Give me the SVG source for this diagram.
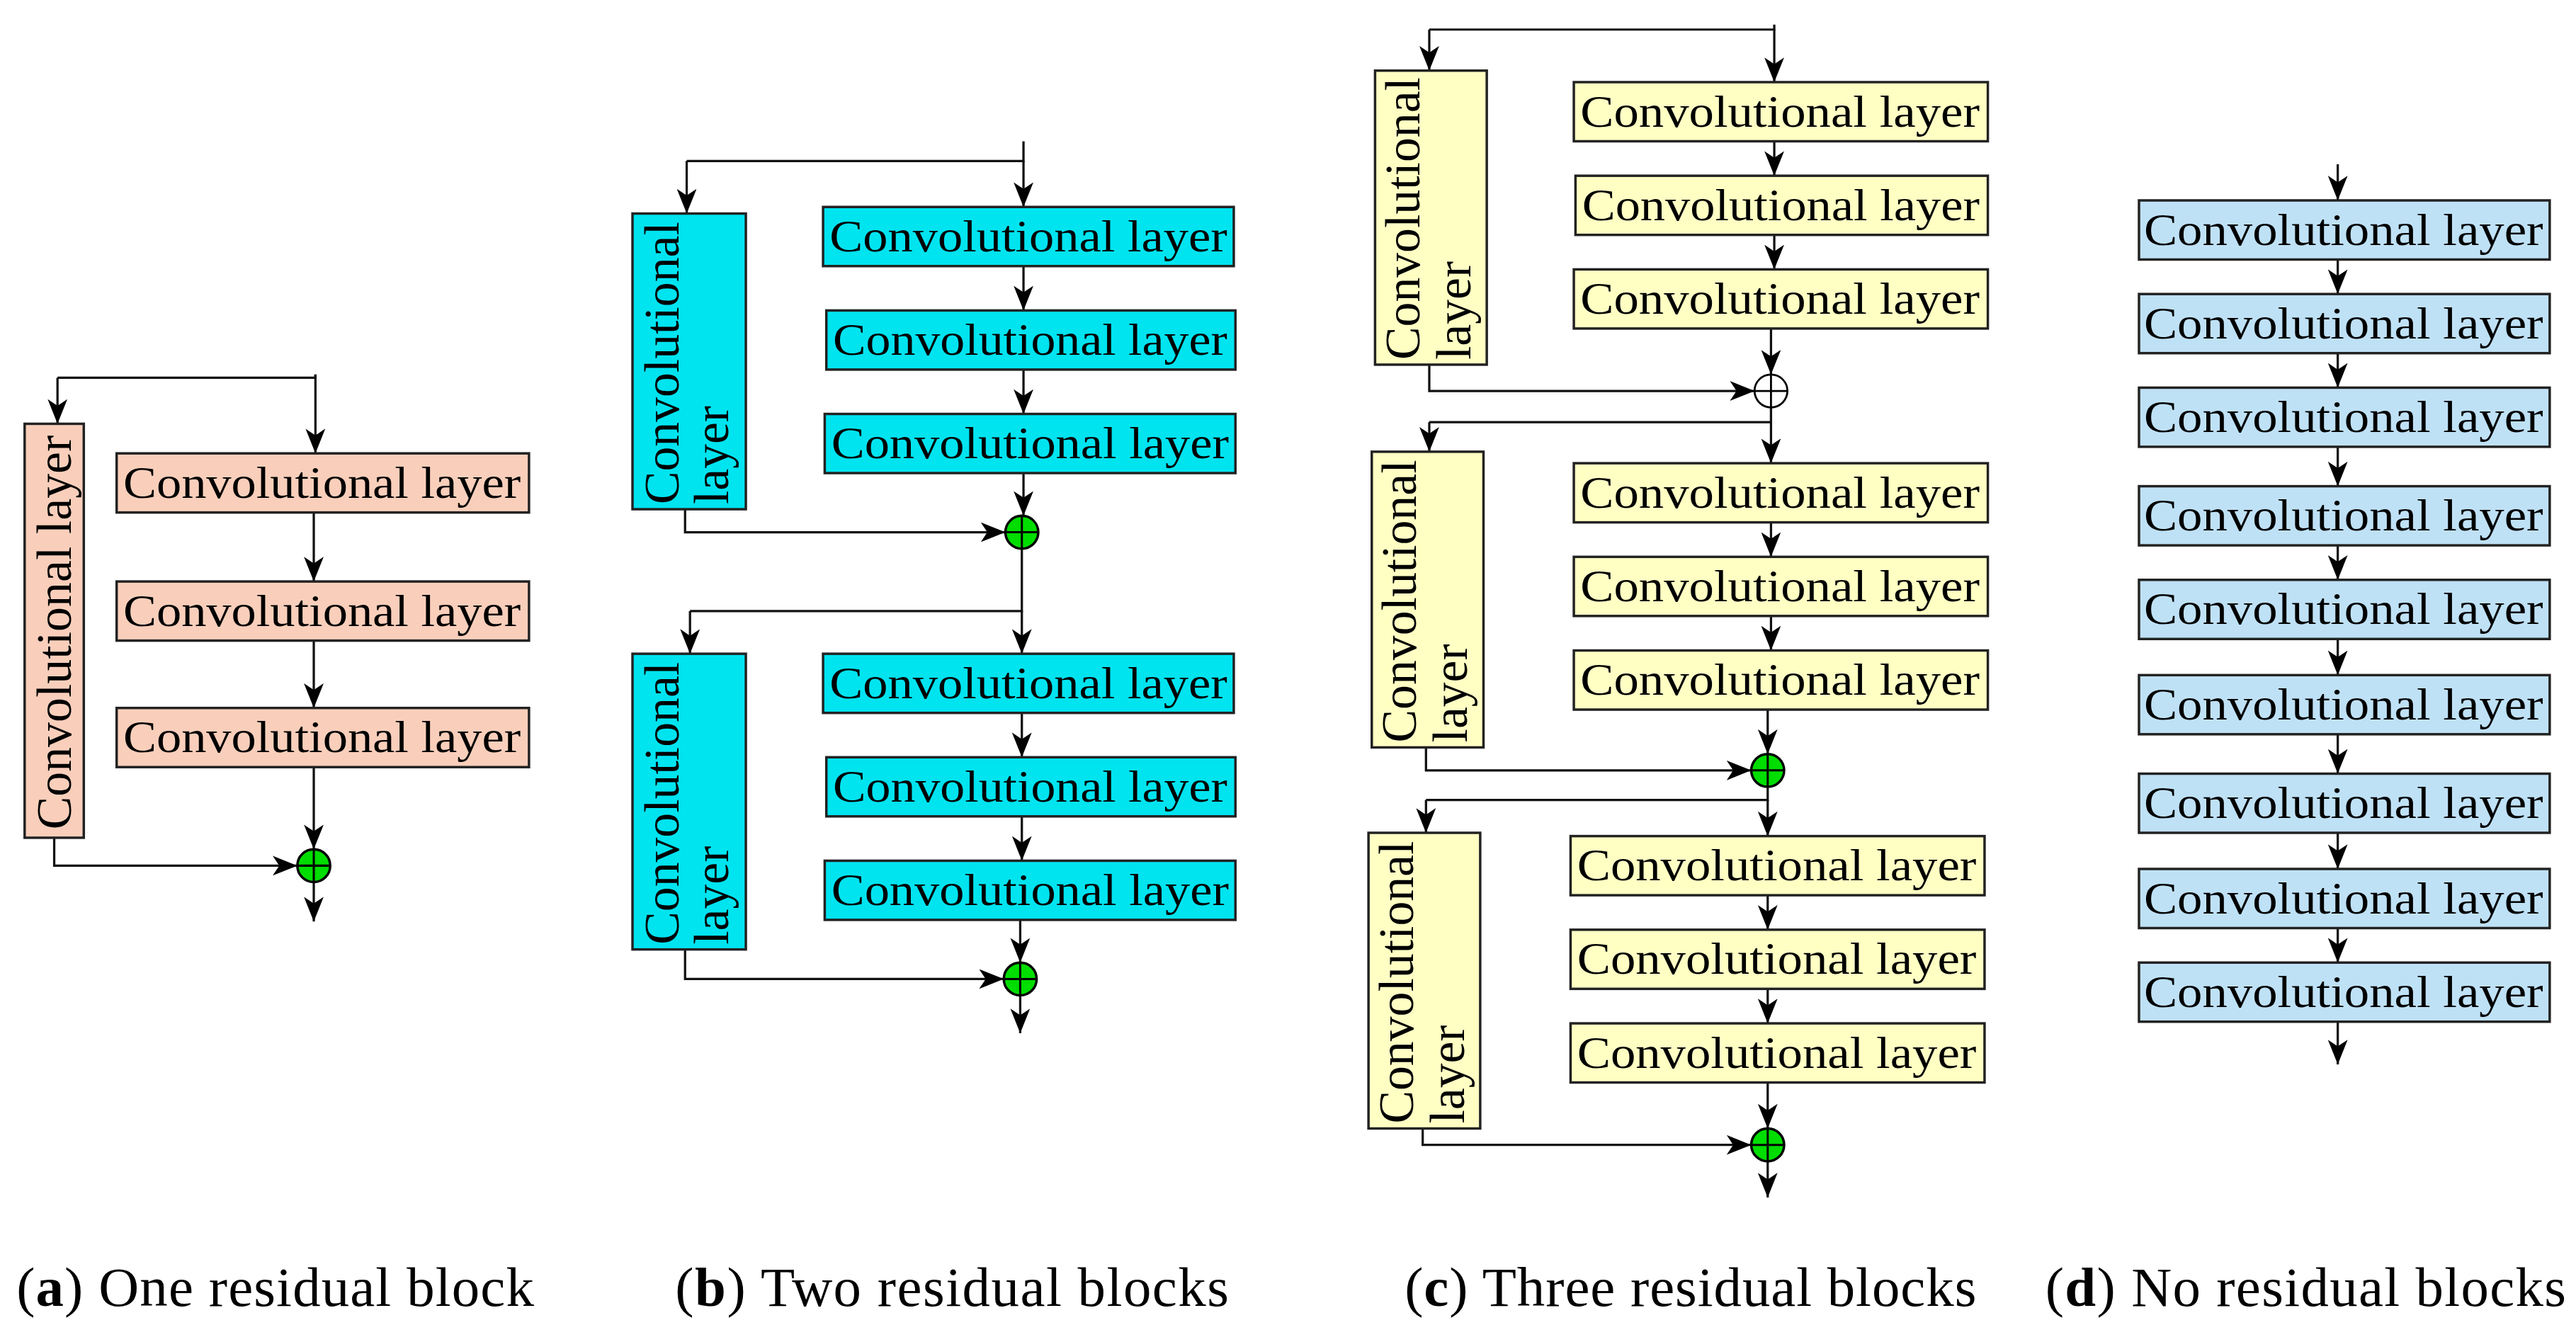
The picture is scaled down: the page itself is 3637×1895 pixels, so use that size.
<svg xmlns="http://www.w3.org/2000/svg" width="3637" height="1895" viewBox="0 0 3637 1895">
<style>
.bx{stroke:#222;stroke-width:1.5}
.a{fill:#f9cfbb}.b{fill:#00e4f0}.c{fill:#ffffc4}.d{fill:#bfe1f6}
.t{font-family:"Liberation Serif",serif;font-size:27px;fill:#000}
.v{font-size:30px}
.ln{fill:none;stroke:#111;stroke-width:1.4}
.ar{marker-end:url(#ah)}
.cap{font-family:"Liberation Serif",serif;font-size:34px;fill:#000}
</style>
<defs>
<marker id="ah" markerUnits="userSpaceOnUse" markerWidth="15" markerHeight="12" viewBox="0 0 15 12" refX="15" refY="6" orient="auto"><path d="M0,0 L15,6 L0,12 L4,6 z" fill="#000"/></marker>
<g id="sum"><circle r="10" fill="#00dd00" stroke="#000" stroke-width="1.5"/><path d="M-10,0H10M0,-10V10" stroke="#000" stroke-width="1.3"/></g>
</defs>
<rect width="3637" height="1895" fill="#fff"/>
<g transform="scale(2.3195)">
<g id="connectors">
<path class="ln" d="M192,228V230H35"/><path class="ln ar" d="M35,230V258"/><path class="ln ar" d="M192,228V276"/>
<path class="ln ar" d="M191,312V354"/><path class="ln ar" d="M191,390V431"/><path class="ln ar" d="M191,467V517"/>
<path class="ln ar" d="M33,510V527H181"/><path class="ln ar" d="M191,537V561"/>
<path class="ln" d="M623,86V98H418"/><path class="ln ar" d="M418,98V130"/><path class="ln ar" d="M623,98V126"/>
<path class="ln ar" d="M623,162V189"/><path class="ln ar" d="M623,225V252"/><path class="ln ar" d="M623,288V314"/>
<path class="ln ar" d="M417,310V324H612"/>
<path class="ln" d="M622,334V372H420"/><path class="ln ar" d="M420,372V398"/><path class="ln ar" d="M622,372V398"/>
<path class="ln ar" d="M622,434V461"/><path class="ln ar" d="M622,497V524"/><path class="ln ar" d="M621,560V586"/>
<path class="ln ar" d="M417,578V596H611"/><path class="ln ar" d="M621,606V629"/>
<path class="ln" d="M1080,15V18H870"/><path class="ln ar" d="M870,18V43"/><path class="ln ar" d="M1080,18V50"/>
<path class="ln ar" d="M1080,86V107"/><path class="ln ar" d="M1080,143V164"/><path class="ln ar" d="M1078,200V228"/>
<path class="ln ar" d="M870,222V238H1068"/>
<path class="ln" d="M1078,248V257H870"/><path class="ln ar" d="M870,257V275"/><path class="ln ar" d="M1078,257V282"/>
<path class="ln ar" d="M1078,318V339"/><path class="ln ar" d="M1078,375V396"/><path class="ln ar" d="M1076,432V459"/>
<path class="ln ar" d="M868,455V469H1066"/>
<path class="ln" d="M1076,479V487H868"/><path class="ln ar" d="M868,487V507"/><path class="ln ar" d="M1076,487V509"/>
<path class="ln ar" d="M1076,545V566"/><path class="ln ar" d="M1076,602V623"/><path class="ln ar" d="M1076,659V687"/>
<path class="ln ar" d="M866,687V697H1066"/><path class="ln ar" d="M1076,707V729"/>
<path class="ln ar" d="M1423,100V122"/>
<path class="ln ar" d="M1423,158V179"/><path class="ln ar" d="M1423,215V236"/><path class="ln ar" d="M1423,272V296"/>
<path class="ln ar" d="M1423,332V353"/><path class="ln ar" d="M1423,389V411"/><path class="ln ar" d="M1423,447V471"/>
<path class="ln ar" d="M1423,507V529"/><path class="ln ar" d="M1423,565V586"/><path class="ln ar" d="M1423,622V648"/>
</g>
<g id="sums">
<use href="#sum" x="191" y="527"/><use href="#sum" x="622" y="324"/><use href="#sum" x="621" y="596"/>
<g transform="translate(1078,238)"><circle r="10" fill="#fff" stroke="#000" stroke-width="1.2"/><path d="M-10,0H10M0,-10V10" stroke="#000" stroke-width="1.2"/></g>
<use href="#sum" x="1076" y="469"/><use href="#sum" x="1076" y="697"/>
</g>
<g id="a-side"><rect class="bx a" x="15" y="258" width="36" height="252"/><text class="t v" transform="translate(43,505) rotate(-90)" textLength="240" lengthAdjust="spacingAndGlyphs">Convolutional layer</text></g>
<g id="a1"><rect class="bx a" x="71" y="276" width="251" height="36"/><text class="t" x="75" y="303" textLength="242" lengthAdjust="spacingAndGlyphs">Convolutional layer</text></g>
<g id="a2"><rect class="bx a" x="71" y="354" width="251" height="36"/><text class="t" x="75" y="381" textLength="242" lengthAdjust="spacingAndGlyphs">Convolutional layer</text></g>
<g id="a3"><rect class="bx a" x="71" y="431" width="251" height="36"/><text class="t" x="75" y="458" textLength="242" lengthAdjust="spacingAndGlyphs">Convolutional layer</text></g>
<g id="b-side1"><rect class="bx b" x="385" y="130" width="69" height="180"/><text class="t v" transform="translate(413,307) rotate(-90)" textLength="172" lengthAdjust="spacingAndGlyphs">Convolutional</text><text class="t v" transform="translate(443,307) rotate(-90)">layer</text></g>
<g id="b1"><rect class="bx b" x="501" y="126" width="250" height="36"/><text class="t" x="505" y="153" textLength="242" lengthAdjust="spacingAndGlyphs">Convolutional layer</text></g>
<g id="b2"><rect class="bx b" x="503" y="189" width="249" height="36"/><text class="t" x="507" y="216" textLength="240" lengthAdjust="spacingAndGlyphs">Convolutional layer</text></g>
<g id="b3"><rect class="bx b" x="502" y="252" width="250" height="36"/><text class="t" x="506" y="279" textLength="242" lengthAdjust="spacingAndGlyphs">Convolutional layer</text></g>
<g id="b-side2"><rect class="bx b" x="385" y="398" width="69" height="180"/><text class="t v" transform="translate(413,575) rotate(-90)" textLength="172" lengthAdjust="spacingAndGlyphs">Convolutional</text><text class="t v" transform="translate(443,575) rotate(-90)">layer</text></g>
<g id="b4"><rect class="bx b" x="501" y="398" width="250" height="36"/><text class="t" x="505" y="425" textLength="242" lengthAdjust="spacingAndGlyphs">Convolutional layer</text></g>
<g id="b5"><rect class="bx b" x="503" y="461" width="249" height="36"/><text class="t" x="507" y="488" textLength="240" lengthAdjust="spacingAndGlyphs">Convolutional layer</text></g>
<g id="b6"><rect class="bx b" x="502" y="524" width="250" height="36"/><text class="t" x="506" y="551" textLength="242" lengthAdjust="spacingAndGlyphs">Convolutional layer</text></g>
<g id="c-side1"><rect class="bx c" x="837" y="43" width="68" height="179"/><text class="t v" transform="translate(864,219) rotate(-90)" textLength="172" lengthAdjust="spacingAndGlyphs">Convolutional</text><text class="t v" transform="translate(895,219) rotate(-90)">layer</text></g>
<g id="c1"><rect class="bx c" x="958" y="50" width="252" height="36"/><text class="t" x="962" y="77" textLength="243" lengthAdjust="spacingAndGlyphs">Convolutional layer</text></g>
<g id="c2"><rect class="bx c" x="959" y="107" width="251" height="36"/><text class="t" x="963" y="134" textLength="242" lengthAdjust="spacingAndGlyphs">Convolutional layer</text></g>
<g id="c3"><rect class="bx c" x="958" y="164" width="252" height="36"/><text class="t" x="962" y="191" textLength="243" lengthAdjust="spacingAndGlyphs">Convolutional layer</text></g>
<g id="c-side2"><rect class="bx c" x="835" y="275" width="68" height="180"/><text class="t v" transform="translate(862,452) rotate(-90)" textLength="172" lengthAdjust="spacingAndGlyphs">Convolutional</text><text class="t v" transform="translate(893,452) rotate(-90)">layer</text></g>
<g id="c4"><rect class="bx c" x="958" y="282" width="252" height="36"/><text class="t" x="962" y="309" textLength="243" lengthAdjust="spacingAndGlyphs">Convolutional layer</text></g>
<g id="c5"><rect class="bx c" x="958" y="339" width="252" height="36"/><text class="t" x="962" y="366" textLength="243" lengthAdjust="spacingAndGlyphs">Convolutional layer</text></g>
<g id="c6"><rect class="bx c" x="958" y="396" width="252" height="36"/><text class="t" x="962" y="423" textLength="243" lengthAdjust="spacingAndGlyphs">Convolutional layer</text></g>
<g id="c-side3"><rect class="bx c" x="833" y="507" width="68" height="180"/><text class="t v" transform="translate(860,684) rotate(-90)" textLength="172" lengthAdjust="spacingAndGlyphs">Convolutional</text><text class="t v" transform="translate(891,684) rotate(-90)">layer</text></g>
<g id="c7"><rect class="bx c" x="956" y="509" width="252" height="36"/><text class="t" x="960" y="536" textLength="243" lengthAdjust="spacingAndGlyphs">Convolutional layer</text></g>
<g id="c8"><rect class="bx c" x="956" y="566" width="252" height="36"/><text class="t" x="960" y="593" textLength="243" lengthAdjust="spacingAndGlyphs">Convolutional layer</text></g>
<g id="c9"><rect class="bx c" x="956" y="623" width="252" height="36"/><text class="t" x="960" y="650" textLength="243" lengthAdjust="spacingAndGlyphs">Convolutional layer</text></g>
<g id="d1"><rect class="bx d" x="1302" y="122" width="250" height="36"/><text class="t" x="1305" y="149" textLength="243" lengthAdjust="spacingAndGlyphs">Convolutional layer</text></g>
<g id="d2"><rect class="bx d" x="1302" y="179" width="250" height="36"/><text class="t" x="1305" y="206" textLength="243" lengthAdjust="spacingAndGlyphs">Convolutional layer</text></g>
<g id="d3"><rect class="bx d" x="1302" y="236" width="250" height="36"/><text class="t" x="1305" y="263" textLength="243" lengthAdjust="spacingAndGlyphs">Convolutional layer</text></g>
<g id="d4"><rect class="bx d" x="1302" y="296" width="250" height="36"/><text class="t" x="1305" y="323" textLength="243" lengthAdjust="spacingAndGlyphs">Convolutional layer</text></g>
<g id="d5"><rect class="bx d" x="1302" y="353" width="250" height="36"/><text class="t" x="1305" y="380" textLength="243" lengthAdjust="spacingAndGlyphs">Convolutional layer</text></g>
<g id="d6"><rect class="bx d" x="1302" y="411" width="250" height="36"/><text class="t" x="1305" y="438" textLength="243" lengthAdjust="spacingAndGlyphs">Convolutional layer</text></g>
<g id="d7"><rect class="bx d" x="1302" y="471" width="250" height="36"/><text class="t" x="1305" y="498" textLength="243" lengthAdjust="spacingAndGlyphs">Convolutional layer</text></g>
<g id="d8"><rect class="bx d" x="1302" y="529" width="250" height="36"/><text class="t" x="1305" y="556" textLength="243" lengthAdjust="spacingAndGlyphs">Convolutional layer</text></g>
<g id="d9"><rect class="bx d" x="1302" y="586" width="250" height="36"/><text class="t" x="1305" y="613" textLength="243" lengthAdjust="spacingAndGlyphs">Convolutional layer</text></g>
<g id="captions">
<text class="cap" x="10" y="795" textLength="315">(<tspan font-weight="bold">a</tspan>) One residual block</text>
<text class="cap" x="411" y="795" textLength="337">(<tspan font-weight="bold">b</tspan>) Two residual blocks</text>
<text class="cap" x="855" y="795" textLength="348">(<tspan font-weight="bold">c</tspan>) Three residual blocks</text>
<text class="cap" x="1245" y="795" textLength="317">(<tspan font-weight="bold">d</tspan>) No residual blocks</text>
</g>
</g>
</svg>
